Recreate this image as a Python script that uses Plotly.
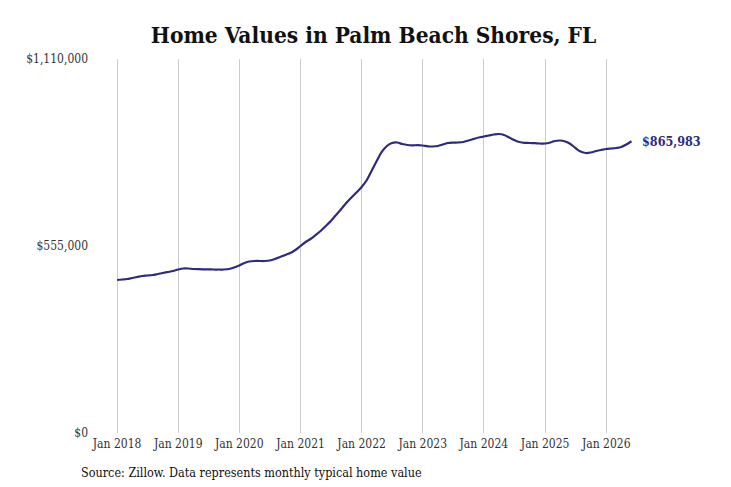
import plotly.graph_objects as go

# monthly typical home value, Jan 2018 .. Jun 2026
values_2018 = [454100, 455600, 457100, 460000, 463000, 466000,
               467400, 468900, 471900, 474900, 477800, 480800]
values_2019 = [485200, 488200, 488200, 486700, 486100, 485800,
               485800, 485200, 485200, 485200, 486700, 491200]
values_2020 = [497100, 504500, 509000, 510500, 510500, 510500,
               512000, 516400, 522300, 528300, 534200, 543100]
values_2021 = [555000, 566900, 575800, 587600, 599500, 614400,
               629200, 647000, 664800, 682600, 698900, 713800]
values_2022 = [730100, 750900, 777600, 807300, 834000, 851800,
               860700, 862200, 857700, 854800, 853900, 854200]
values_2023 = [853300, 850900, 850300, 851800, 856200, 860700,
               861900, 862200, 863700, 868100, 872600, 877000]
values_2024 = [880000, 883000, 885900, 887400, 884400, 877000,
               869600, 863700, 861300, 860700, 860100, 859200]
values_2025 = [859200, 862200, 866600, 868100, 865100, 857700,
               845900, 835500, 831000, 832500, 836900, 839900]
values_2026 = [842900, 844400, 845900, 848800, 856200, 865983]

values = (values_2018 + values_2019 + values_2020 + values_2021 + values_2022
          + values_2023 + values_2024 + values_2025 + values_2026)
dates = [f'{2018 + i // 12}-{i % 12 + 1:02d}-01' for i in range(len(values))]

tick_dates = [f'{y}-01-01' for y in range(2018, 2027)]
tick_labels = [f'Jan {y}' for y in range(2018, 2027)]
y_ticks = [0, 555000, 1110000]
y_labels = ['$0', '$555,000', '$1,110,000']

LINE = '#2e2a7e'
FONT = 'DejaVu Serif Condensed, DejaVu Serif, serif'

fig = go.Figure()
fig.add_trace(go.Scatter(x=dates, y=values, mode='lines',
                         line=dict(color=LINE, width=2.2, shape='spline'),
                         hoverinfo='skip'))

# end-of-line value label
fig.add_annotation(x=dates[-1], y=values[-1], text=f'<b>${values[-1]:,}</b>',
                   showarrow=False, xanchor='left', xshift=9,
                   font=dict(family=FONT, size=12.5, color=LINE))
# source note under the axis
fig.add_annotation(x=0, y=0, xref='paper', yref='paper', xshift=-18, yshift=-39,
                   text='Source: Zillow. Data represents monthly typical home value',
                   showarrow=False, xanchor='left', yanchor='middle',
                   font=dict(family=FONT, size=12.5, color='#111'))

fig.update_layout(
    width=731, height=487,
    margin=dict(l=89, r=103, t=51, b=62),
    paper_bgcolor='white', plot_bgcolor='white',
    showlegend=False,
    font=dict(family=FONT, size=12, color='#333'),
    title=dict(text='<b>Home Values in Palm Beach Shores, FL</b>',
               x=0.5, xanchor='center', y=0.945, yanchor='middle',
               font=dict(family=FONT, size=22.5, color='#111')),
    xaxis=dict(range=['2017-09-03', '2026-06-28'], tickvals=tick_dates,
               ticktext=tick_labels, showgrid=True, gridcolor='#cccccc',
               gridwidth=1, zeroline=False, showline=False, ticks='',
               ticklabelstandoff=2),
    yaxis=dict(range=[0, 1110000], tickvals=y_ticks, ticktext=y_labels,
               showgrid=False, zeroline=False, showline=False, ticks='',
               ticklabelstandoff=8),
)

fig.write_html('out.html')
